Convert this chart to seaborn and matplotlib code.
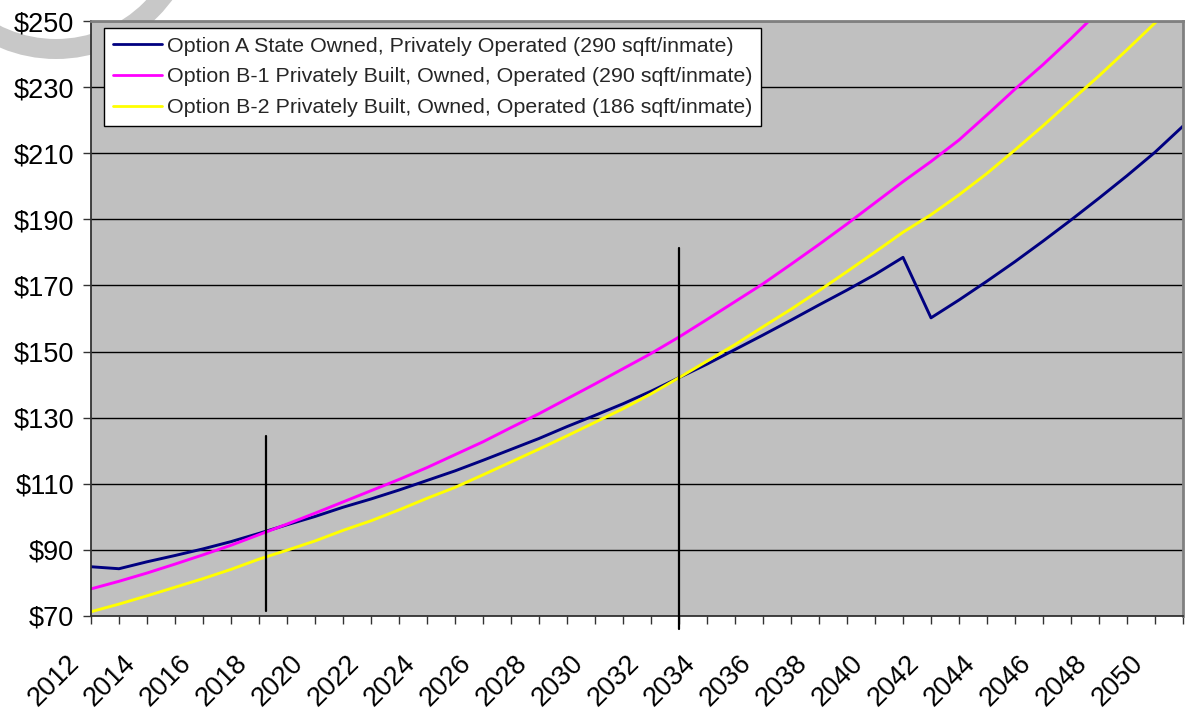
import matplotlib
matplotlib.use("Agg")
import matplotlib.pyplot as plt
import matplotlib.transforms as mtransforms
from matplotlib.patches import Circle
import seaborn as sns
import pandas as pd

# ---------------- data ----------------
years = list(range(2012, 2052))

option_a = [84.9, 84.3, 86.4, 88.3, 90.3, 92.5, 95.0, 97.6, 100.1, 102.9,
            105.4, 108.1, 111.0, 113.9, 117.1, 120.4, 123.7, 127.3, 130.7, 134.2,
            138.0, 142.1, 146.2, 150.6, 155.0, 159.5, 164.1, 168.6, 173.3, 178.5,
            160.2, 165.6, 171.3, 177.2, 183.4, 189.8, 196.4, 203.2, 210.3, 218.2]

option_b1_years = list(range(2012, 2049))
option_b1 = [78.2, 80.5, 83.0, 85.7, 88.5, 91.4, 94.6, 97.8, 101.1, 104.5,
             107.9, 111.3, 114.9, 118.8, 122.7, 127.0, 131.2, 135.7, 140.2, 144.8,
             149.4, 154.4, 159.7, 165.1, 170.5, 176.4, 182.4, 188.6, 195.0, 201.4,
             207.5, 214.0, 221.6, 229.4, 236.8, 244.7, 253.0]

option_b2 = [71.3, 73.6, 76.1, 78.7, 81.3, 84.1, 87.2, 89.9, 92.7, 95.9,
             98.8, 102.1, 105.6, 108.9, 112.7, 116.6, 120.5, 124.5, 128.6, 132.7,
             137.2, 142.1, 147.1, 152.1, 157.5, 162.8, 168.4, 174.2, 180.1, 186.1,
             191.4, 197.4, 203.9, 211.0, 218.3, 225.9, 233.4, 241.3, 249.4, 257.5]

series_names = [
    "Option A State Owned, Privately Operated (290 sqft/inmate)",
    "Option B-1 Privately Built, Owned, Operated (290 sqft/inmate)",
    "Option B-2 Privately Built, Owned, Operated (186 sqft/inmate)",
]
series_colors = ["#000080", "#FF00FF", "#FFFF00"]

y_ticks = list(range(70, 251, 20))
y_tick_labels = [f"${v}" for v in y_ticks]
x_label_years = list(range(2012, 2051, 2))

# drawn vertical marker lines: (year, bottom value, top value)
marker_lines = [(2018.24, 71.5, 124.5), (2033.0, 66.1, 181.2)]

# ---------------- build frame ----------------
rows = []
for name, xs, vals in zip(series_names,
                          [years, option_b1_years, years],
                          [option_a, option_b1, option_b2]):
    for yr, v in zip(xs, vals):
        rows.append({"Year": yr, "Cost": v, "Series": name})
df = pd.DataFrame(rows)

sns.set_theme(style="white")
plt.rcParams["font.family"] = ["Liberation Sans", "DejaVu Sans"]

W, H = 1191, 711
fig = plt.figure(figsize=(W / 100, H / 100), dpi=100)
fig.patch.set_facecolor("white")

# faint watermark fragment at the top-left corner (decoration)
wm = Circle((56 / 100, (H + 85) / 100), 134 / 100, fill=False,
            edgecolor="#c8c8c8", linewidth=14.4,
            transform=fig.dpi_scale_trans, zorder=-1)
fig.add_artist(wm)

ax = fig.add_axes([91 / W, 1 - 616 / H, (1183 - 91) / W, (616 - 21) / H])
ax.set_facecolor("#c0c0c0")

sns.lineplot(data=df, x="Year", y="Cost", hue="Series",
             hue_order=series_names, palette=series_colors,
             estimator=None, sort=False, linewidth=2.1, ax=ax)

for xv, y0, y1 in marker_lines:
    ax.plot([xv, xv], [y0, y1], color="black", linewidth=1.6,
            clip_on=False, zorder=5)

ax.set_xlim(2012, 2051)
ax.set_ylim(70, 250)
ax.set_xlabel("")
ax.set_ylabel("")

ax.set_yticks(y_ticks)
ax.set_yticklabels(y_tick_labels)
ax.set_xticks(years)
ax.set_xticklabels([str(y) if y in x_label_years else "" for y in years])

ax.yaxis.grid(True, color="black", linewidth=1.0)
ax.xaxis.grid(False)
ax.set_axisbelow(True)

ax.tick_params(axis="y", which="major", direction="out", length=6,
               width=1.0, color="#333333", labelsize=19.5, pad=6,
               labelcolor="black", left=True)
ax.tick_params(axis="x", which="major", direction="out", length=6,
               width=1.0, color="#333333", labelsize=19.5, pad=25,
               labelcolor="black", bottom=True)

offset = mtransforms.ScaledTranslation(-16 / 100, 0, fig.dpi_scale_trans)
for lbl in ax.get_xticklabels():
    lbl.set_rotation(45)
    lbl.set_ha("right")
    lbl.set_va("center")
    lbl.set_rotation_mode("anchor")
    lbl.set_transform(lbl.get_transform() + offset)

for side in ["left", "bottom"]:
    ax.spines[side].set_color("#333333")
    ax.spines[side].set_linewidth(1.3)
for side in ["top", "right"]:
    ax.spines[side].set_color("#808080")
    ax.spines[side].set_linewidth(2.0)

leg = ax.legend(loc="upper left", bbox_to_anchor=((104 - 91) / 1092, (616 - 28) / 595),
                borderaxespad=0, frameon=True, fancybox=False, framealpha=1,
                edgecolor="black", facecolor="white", fontsize=15.4,
                handlelength=2.3, handletextpad=0.25, labelspacing=0.55,
                borderpad=0.4, title=None)
leg.get_frame().set_linewidth(1.0)
for line in leg.get_lines():
    line.set_linewidth(2.0)

fig.savefig("out.png", dpi=100, facecolor="white")
